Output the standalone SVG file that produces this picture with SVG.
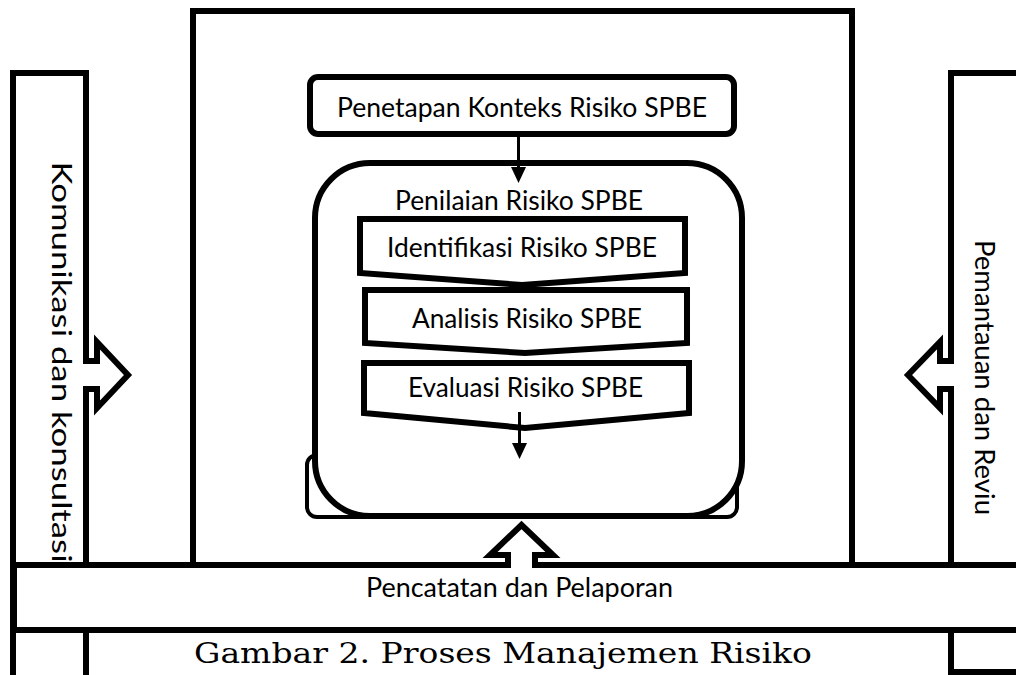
<svg xmlns="http://www.w3.org/2000/svg" width="1016" height="675" viewBox="0 0 1016 675">
  <style>
    .ln{fill:none;stroke:#000;stroke-width:6;stroke-linejoin:miter}
    .bx{fill:#fff;stroke:#000;stroke-width:6;stroke-linejoin:miter}
    .t{font-family:Lato,"Open Sans","DejaVu Sans",sans-serif;font-size:26px;fill:#000;text-anchor:middle}
    .cap{font-family:"DejaVu Serif","Liberation Serif",serif;font-size:27px;fill:#000;text-anchor:middle}
    .conn{stroke:#000;stroke-width:3;fill:none}
    .head{fill:#000;stroke:none}
  </style>
  <rect width="1016" height="675" fill="#fff"/>

  <g id="central-frame">
    <path class="ln" d="M193,566 V11 H852 V566"/>
  </g>

  <g id="komunikasi">
    <path class="ln" d="M13,690 V73 H86 V361 H97 V342 L128,375 L97,408 V389 H86 V690"/>
    <text class="t" transform="translate(62,362) rotate(90)" dominant-baseline="central" textLength="401" lengthAdjust="spacingAndGlyphs">Komunikasi dan konsultasi</text>
  </g>

  <g id="pemantauan">
    <path class="ln" d="M1030,73 H951 V361 H940 V342 L908,375 L940,408 V389 H951 V672 H1030"/>
    <text class="t" transform="translate(985,377.5) rotate(90)" dominant-baseline="central" textLength="275" lengthAdjust="spacingAndGlyphs">Pemantauan dan Reviu</text>
  </g>

  <g id="pencatatan">
    <rect x="14" y="565" width="1010" height="65" fill="#fff"/>
    <path class="ln" d="M1030,630 H14 V565 H508 V555 H490 L521.5,525 L553,555 H535 V565 H1030"/>
    <text class="t" x="519.5" y="597" textLength="307" lengthAdjust="spacingAndGlyphs">Pencatatan dan Pelaporan</text>
  </g>

  <g id="penetapan">
    <rect class="bx" x="310" y="77" width="424" height="57" rx="8"/>
    <text class="t" x="522" y="117" textLength="370" lengthAdjust="spacingAndGlyphs">Penetapan Konteks Risiko SPBE</text>
  </g>

  <g id="penilaian">
    <rect x="307" y="455" width="430" height="62" rx="10" fill="#fff" stroke="#000" stroke-width="4"/>
    <rect class="bx" x="315" y="163" width="427" height="353" rx="55"/>
    <text class="t" x="519" y="210" textLength="248" lengthAdjust="spacingAndGlyphs">Penilaian Risiko SPBE</text>
  </g>

  <g id="identifikasi">
    <polygon class="bx" points="360,219 685,219 685,273 522,285 360,273"/>
    <text class="t" x="522" y="257" textLength="270" lengthAdjust="spacingAndGlyphs">Identifikasi Risiko SPBE</text>
  </g>

  <g id="analisis">
    <polygon class="bx" points="365,290 687,290 687,343 525,353 365,343"/>
    <text class="t" x="527" y="328" textLength="230" lengthAdjust="spacingAndGlyphs">Analisis Risiko SPBE</text>
  </g>

  <g id="evaluasi">
    <polygon class="bx" points="364,363 689,363 689,413 525,428 364,413"/>
    <text class="t" x="525.5" y="397" textLength="235" lengthAdjust="spacingAndGlyphs">Evaluasi Risiko SPBE</text>
  </g>

  <g id="connectors">
    <line class="conn" x1="518.5" y1="136" x2="518.5" y2="170"/>
    <polygon class="head" points="511,167 526,167 518.5,183"/>
    <line class="conn" x1="519.5" y1="412" x2="519.5" y2="445"/>
    <polygon class="head" points="512,443 527,443 519.5,459"/>
  </g>

  <g id="caption">
    <text class="cap" x="503" y="663" textLength="618" lengthAdjust="spacingAndGlyphs">Gambar 2. Proses Manajemen Risiko</text>
  </g>
</svg>
